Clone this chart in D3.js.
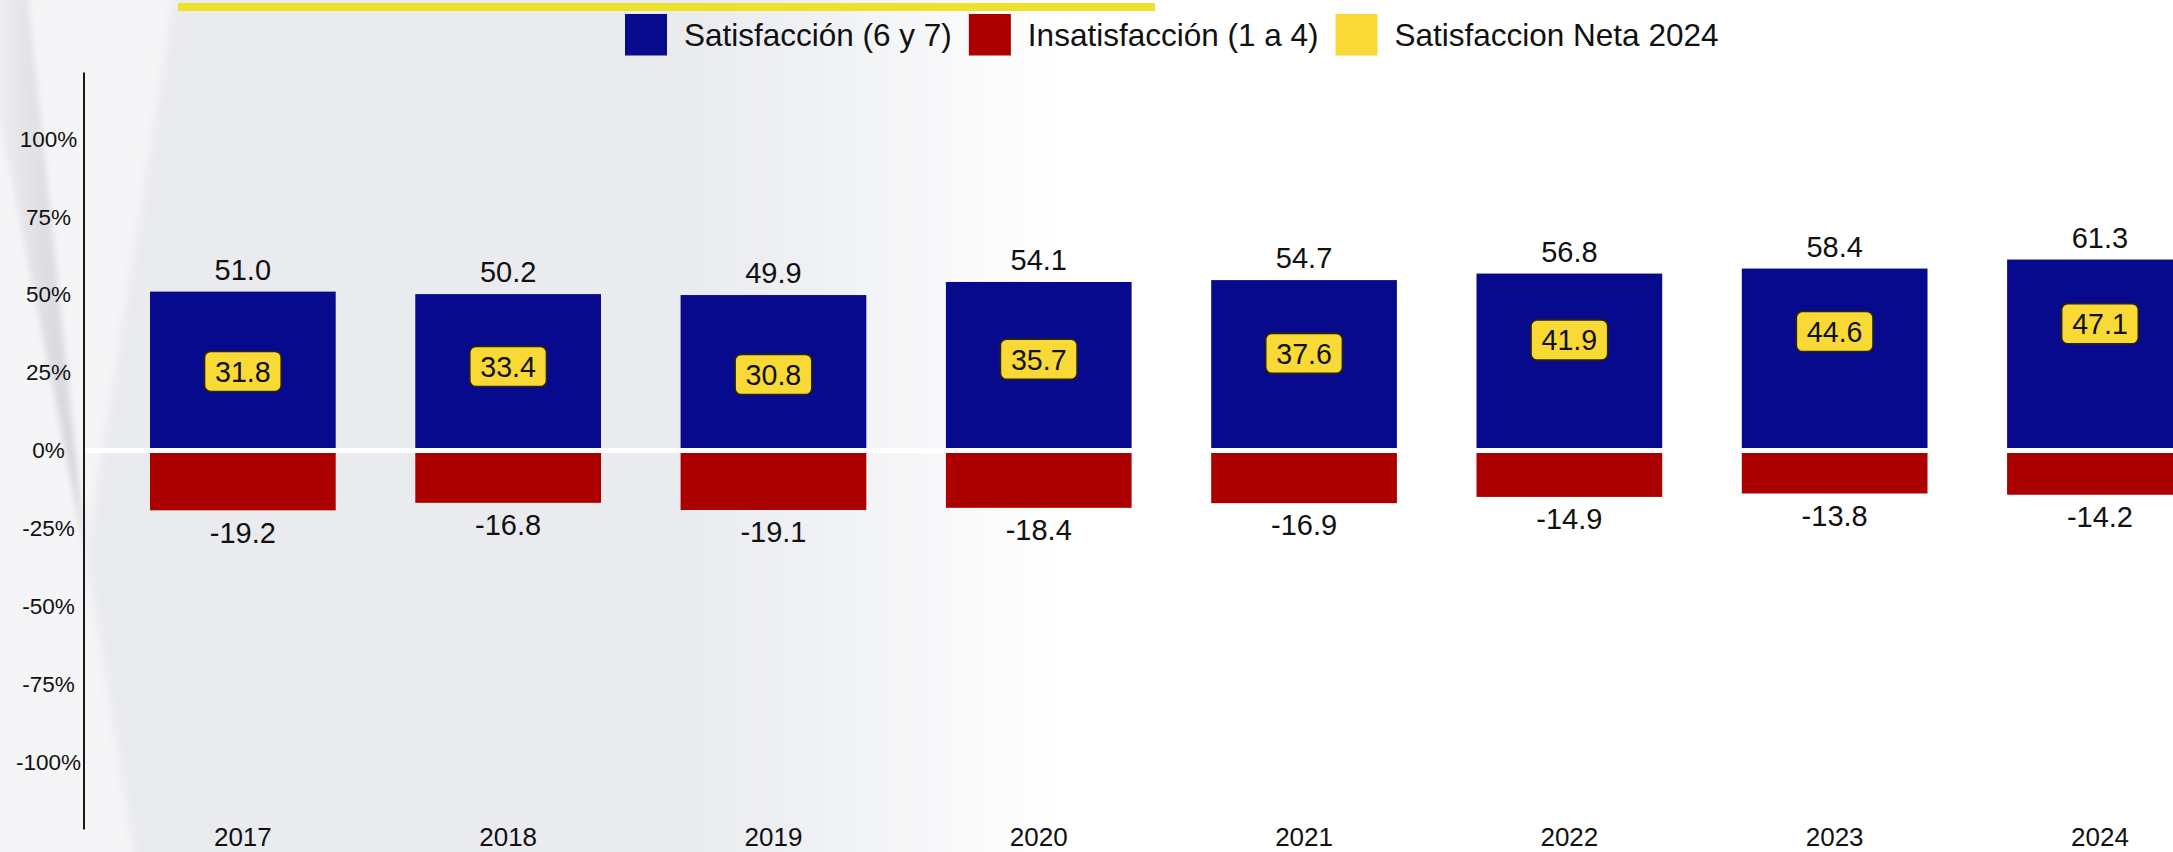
<!DOCTYPE html>
<html>
<head>
<meta charset="utf-8">
<script src="https://cdn.jsdelivr.net/npm/d3@7"></script>
<style>
  html, body { margin: 0; padding: 0; background: #ffffff; }
  svg { display: block; font-family: "Liberation Sans", Arial, sans-serif; }
</style>
</head>
<body>
<svg id="chart" width="2173" height="852"></svg>
<script>
// ---------------- data ----------------
const years = ["2017", "2018", "2019", "2020", "2021", "2022", "2023", "2024"];
const satisfaction = [51.0, 50.2, 49.9, 54.1, 54.7, 56.8, 58.4, 61.3];
const dissatisfaction = [-19.2, -16.8, -19.1, -18.4, -16.9, -14.9, -13.8, -14.2];
const netSatisfaction = [31.8, 33.4, 30.8, 35.7, 37.6, 41.9, 44.6, 47.1];
const yTickValues = [100, 75, 50, 25, 0, -25, -50, -75, -100];
const legendLabels = ["Satisfacción (6 y 7)", "Insatisfacción (1 a 4)", "Satisfaccion Neta 2024"];

// ---------------- styles ----------------
const BLUE = "#070a8c", RED = "#aa0000", YELLOW = "#f9d935";
const legendColors = [BLUE, RED, YELLOW];
const W = 2173, H = 852;

const svg = d3.select("#chart");
const defs = svg.append("defs");

// background gradient (grey to white towards the right)
const bg = defs.append("linearGradient").attr("id", "bgGrad")
  .attr("gradientUnits", "userSpaceOnUse").attr("x1", 0).attr("x2", W).attr("y1", 0).attr("y2", 0);
[[0, "#e9eaee"], [0.32, "#eaebef"], [0.40, "#f3f4f6"], [0.49, "#ffffff"], [1, "#ffffff"]]
  .forEach(([o, c]) => bg.append("stop").attr("offset", o).attr("stop-color", c));

const band = defs.append("linearGradient").attr("id", "bandGrad")
  .attr("x1", 0).attr("x2", 1).attr("y1", 0).attr("y2", 0);
[[0, "#ececef"], [0.6, "#dcdce0"], [1, "#d3d3d8"]]
  .forEach(([o, c]) => band.append("stop").attr("offset", o).attr("stop-color", c));

defs.append("filter").attr("id", "soft").attr("x", "-10%").attr("y", "-10%").attr("width", "120%").attr("height", "120%")
  .append("feGaussianBlur").attr("stdDeviation", 5);
defs.append("filter").attr("id", "soft2").attr("x", "-30%").attr("y", "-10%").attr("width", "160%").attr("height", "120%")
  .append("feGaussianBlur").attr("stdDeviation", 3);

// ---------------- background decoration ----------------
svg.append("rect").attr("width", W).attr("height", H).attr("fill", "#f5f5f7");
svg.append("polygon")
  .attr("points", [[0, -20], [26, -20], [86, 556], [0, 120]].map(p => p.join(",")).join(" "))
  .attr("fill", "url(#bandGrad)").attr("filter", "url(#soft2)");
svg.append("polygon")
  .attr("points", [[180, -40], [2300, -40], [2300, 900], [142, 900], [86, 556]].map(p => p.join(",")).join(" "))
  .attr("fill", "url(#bgGrad)").attr("filter", "url(#soft)");

// yellow top rule
svg.append("rect").attr("x", 178).attr("y", 3).attr("width", 977).attr("height", 8).attr("fill", "#ece12b");

// ---------------- scales ----------------
const x = d3.scaleBand().domain(years).range([70.4, 2272.4]).paddingInner(0.3).paddingOuter(0.3);
const y = d3.scaleLinear().domain([-121.5, 121.5]).range([829, 72]);
const fmt = v => d3.format(".1f")(v).replace("\u2212", "-");

const rows = years.map((yr, i) => ({
  year: yr, sat: satisfaction[i], dis: dissatisfaction[i], net: netSatisfaction[i]
}));

// ---------------- bars ----------------
const g = svg.append("g");
g.selectAll("rect.sat").data(rows).join("rect").attr("class", "sat")
  .attr("x", d => x(d.year)).attr("width", x.bandwidth())
  .attr("y", d => y(d.sat)).attr("height", d => y(0) - y(d.sat))
  .attr("fill", BLUE);
g.selectAll("rect.dis").data(rows).join("rect").attr("class", "dis")
  .attr("x", d => x(d.year)).attr("width", x.bandwidth())
  .attr("y", y(0)).attr("height", d => y(d.dis) - y(0))
  .attr("fill", RED);

// zero line
svg.append("line").attr("x1", 85).attr("x2", W + 10).attr("y1", y(0)).attr("y2", y(0))
  .attr("stroke", "#ffffff").attr("stroke-width", 5);

// value labels
g.selectAll("text.satLbl").data(rows).join("text").attr("class", "satLbl")
  .attr("x", d => x(d.year) + x.bandwidth() / 2).attr("y", d => y(d.sat) - 11.7)
  .attr("text-anchor", "middle").attr("font-size", 29).attr("fill", "#111")
  .text(d => fmt(d.sat));
g.selectAll("text.disLbl").data(rows).join("text").attr("class", "disLbl")
  .attr("x", d => x(d.year) + x.bandwidth() / 2).attr("y", d => y(d.dis) + 32.2)
  .attr("text-anchor", "middle").attr("font-size", 29).attr("fill", "#111")
  .text(d => fmt(d.dis));

// net satisfaction boxes
const nets = g.selectAll("g.net").data(rows).join("g").attr("class", "net")
  .attr("transform", d => `translate(${x(d.year) + x.bandwidth() / 2},${y(d.net)})`);
nets.append("text").attr("x", 0).attr("y", 30.5).attr("text-anchor", "middle")
  .attr("font-size", 28.6).attr("fill", "#111").text(d => fmt(d.net));
nets.each(function () {
  const gg = d3.select(this);
  const t = gg.select("text");
  const w = t.node().getComputedTextLength() + 21;
  gg.insert("rect", "text").attr("x", -w / 2).attr("y", 0).attr("width", w).attr("height", 40)
    .attr("rx", 6).attr("fill", YELLOW).attr("stroke", "#2b2606").attr("stroke-width", 1.6);
});

// ---------------- axes ----------------
const yAxis = svg.append("g").attr("transform", "translate(83.5,0)")
  .call(d3.axisLeft(y).tickValues(yTickValues).tickSize(0).tickFormat(d => d + "%"));
yAxis.select(".domain").attr("stroke", "#1a1a1a").attr("stroke-width", 2);
yAxis.selectAll(".tick text").attr("x", -35).attr("text-anchor", "middle")
  .attr("font-size", 22.5).attr("font-family", "Liberation Sans, Arial, sans-serif").attr("fill", "#111");

const xAxis = svg.append("g").attr("transform", "translate(0,845.5)")
  .call(d3.axisBottom(x).tickSize(0).tickPadding(0));
xAxis.select(".domain").remove();
xAxis.selectAll(".tick text").attr("y", 0).attr("dy", 0)
  .attr("font-size", 26).attr("font-family", "Liberation Sans, Arial, sans-serif").attr("fill", "#111");

// ---------------- legend ----------------
const lg = svg.append("g");
let lx = 625;
legendLabels.forEach((lab, i) => {
  lg.append("rect").attr("x", lx).attr("y", 14).attr("width", 42).attr("height", 41.5).attr("fill", legendColors[i]);
  const t = lg.append("text").attr("x", lx + 59).attr("y", 46).attr("font-size", 31.5).attr("fill", "#111").text(lab);
  lx = lx + 59 + t.node().getComputedTextLength() + 17;
});
</script>
</body>
</html>
